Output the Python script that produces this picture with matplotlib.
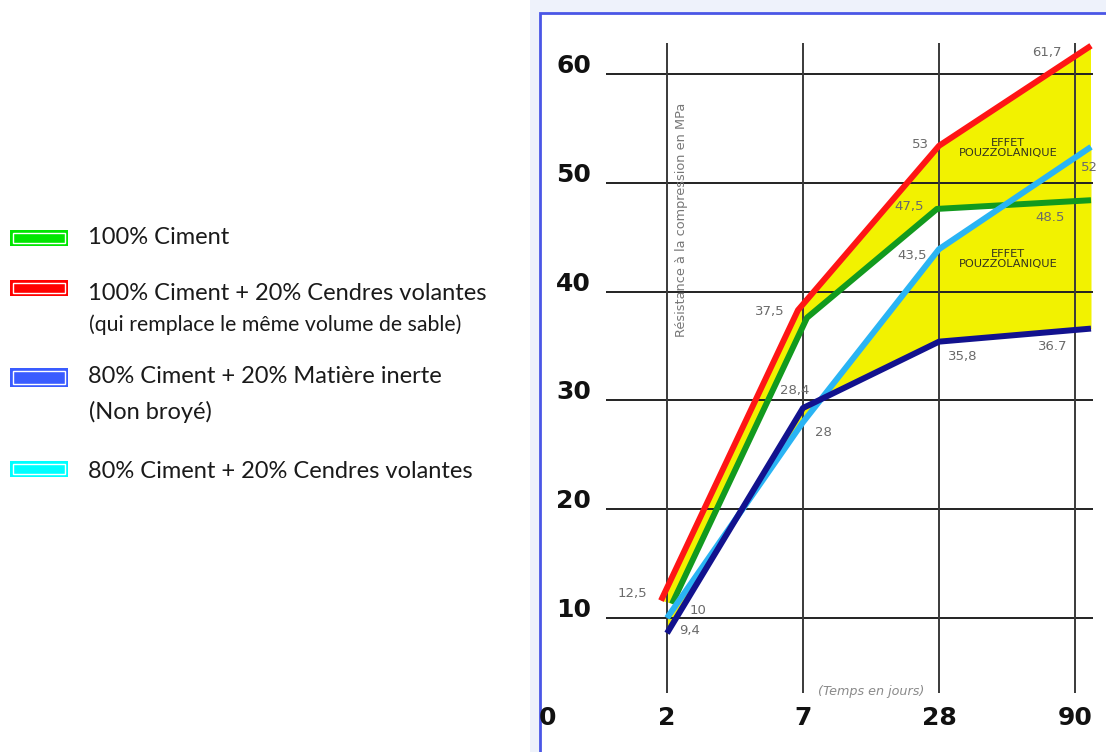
import matplotlib
matplotlib.use("Agg")
import matplotlib.pyplot as plt
from matplotlib.patches import Rectangle
import numpy as np

# ---------------- data ----------------
days = ["2", "7", "28", "90"]
y_ticks = [10, 20, 30, 40, 50, 60]

s_ciment = [11.3, 37.6, 47.6, 48.4]          # 100% Ciment (green)
s_ciment_cv = [11.6, 38.3, 53.4, 62.6]       # 100% Ciment + 20% CV (red)
s_inerte = [8.6, 29.3, 35.4, 36.6]           # 80% Ciment + 20% inerte (navy)
s_cv80 = [10.0, 28.0, 43.9, 53.3]            # 80% Ciment + 20% CV (cyan)

lab_ciment = ["", "", "47,5", "48.5"]
lab_ciment_cv = ["12,5", "37,5", "53", "61,7"]
lab_inerte = ["9,4", "28,4", "35,8", "36.7"]
lab_cv80 = ["10", "28", "43,5", "52"]

legend_labels = [
    "100% Ciment",
    "100% Ciment + 20% Cendres volantes",
    "80% Ciment + 20% Matière inerte",
    "80% Ciment + 20% Cendres volantes",
]
legend_sub = ["", "(qui remplace le même volume de sable)", "(Non broyé)", ""]

# ---------------- styling ----------------
W, H = 1106, 752
fig = plt.figure(figsize=(W / 100, H / 100), dpi=100)
fig.patch.set_facecolor("white")

def fx(px):
    return px / W

def fy(py):
    return 1 - py / H

# background panel for the chart (light surround + blue border)
fig.patches.append(Rectangle((fx(530), 0), 1 - fx(530), 1, transform=fig.transFigure,
                             facecolor="#eef2fb", edgecolor="none", zorder=-3))
fig.patches.append(Rectangle((fx(540), fy(760)), 1.2 - fx(540), fy(13) - fy(760),
                             transform=fig.transFigure, facecolor="white",
                             edgecolor="#4a56e6", linewidth=2.0, zorder=-2))

# axes placement (pixels)
L, R, T, B = 606, 1093, 43, 693
ax = fig.add_axes([fx(L), fy(B), fx(R) - fx(L), fy(T) - fy(B)])
ax.set_zorder(2)
ax.set_facecolor("none")
for sp in ax.spines.values():
    sp.set_visible(False)
ax.set_xticks([])
ax.set_yticks([])

px_per_x = 136.0
x0_px = 667
ax.set_xlim((L - x0_px) / px_per_x, (R - x0_px) / px_per_x)
px_per_y = 10.88
y0_px = 726.8
ax.set_ylim((y0_px - B) / px_per_y, (y0_px - T) / px_per_y)

xg = np.arange(len(days), dtype=float)      # grid positions
xd = xg.copy()
xd[-1] = (R - 2 - x0_px) / px_per_x          # last points drawn at the right edge

# small hand-drawn horizontal shifts (pixels) of the original drawing
dx_red = np.array([-6, -5, 0, 0]) / px_per_x
dx_green = np.array([5, 4, -2, 0]) / px_per_x
x_red = xd + dx_red
x_green = xd + dx_green

# yellow "effet pouzzolanique" areas
yellow = "#f2f200"
ax.fill(np.r_[x_red, x_green[::-1]], np.r_[s_ciment_cv, s_ciment[::-1]],
        color=yellow, lw=0, zorder=1)
ax.fill_between(xd, s_inerte, s_cv80, color=yellow, lw=0, zorder=1)

# grid
for v in y_ticks:
    ax.axhline(v, color="#222222", lw=1.4, zorder=2)
for xv in xg:
    ax.axvline(xv, color="#3a3a3a", lw=1.4, zorder=2)

# series
lw = 4.3
lines = [
    ax.plot(x_red, s_ciment_cv, color="#ff1515", lw=lw, zorder=4)[0],
    ax.plot(x_green, s_ciment, color="#129a1e", lw=lw, zorder=4)[0],
    ax.plot(xd, s_cv80, color="#2ab4f4", lw=lw, zorder=4)[0],
    ax.plot(xd, s_inerte, color="#12128e", lw=lw, zorder=5)[0],
]
for ln in lines:
    ln.set_clip_on(False)
    ln.set_solid_capstyle("butt")
    ln.set_solid_joinstyle("round")

# value labels (offsets in pixels)
lab_color = "#6a6a6a"
off_ciment_cv = [(-29, 7), (-28, -1), (-19, 1), (-44, -7)]
off_ciment = [(0, 0), (0, 0), (-28, 2), (-41, -17)]
off_cv80 = [(31, 8), (20, -10), (-27, -6), (-2, -21)]
off_inerte = [(23, 3), (-8, 18), (24, -15), (-38, -18)]
for xs, ser, labs, offs in [(x_red, s_ciment_cv, lab_ciment_cv, off_ciment_cv),
                            (x_green, s_ciment, lab_ciment, off_ciment),
                            (xd, s_cv80, lab_cv80, off_cv80),
                            (xd, s_inerte, lab_inerte, off_inerte)]:
    for xi, yi, t, o in zip(xs, ser, labs, offs):
        if t:
            ax.annotate(t, (xi, yi), xytext=o, textcoords="offset pixels",
                        ha="center", va="center", fontsize=9.5, color=lab_color,
                        family="DejaVu Sans", zorder=6, annotation_clip=False)

# EFFET POUZZOLANIQUE labels
for (px, py) in [(1008, 148), (1008, 259)]:
    ax.text((px - L) / (R - L), 1 - (py - T) / (B - T), "EFFET\nPOUZZOLANIQUE",
            transform=ax.transAxes, ha="center", va="center",
            fontsize=8.2, color="#333320", family="DejaVu Sans",
            linespacing=1.05, zorder=7)

# axis texts
fig.text(fx(681), fy(220), "Résistance à la compression en MPa", rotation=90,
         ha="center", va="center", fontsize=9.3, color="#777777",
         family="DejaVu Sans")
fig.text(fx(871), fy(692), "(Temps en jours)", ha="center", va="center",
         fontsize=9.2, color="#8a8a8a", style="italic", family="DejaVu Sans")

# tick labels
tick_kw = dict(fontsize=18, fontweight="bold", color="#111111", family="DejaVu Sans")
for v in y_ticks:
    ax.annotate(str(v), (ax.get_xlim()[0], v), xytext=(-15, 8), textcoords="offset pixels",
                ha="right", va="center", annotation_clip=False, **tick_kw)
fig.text(fx(548), fy(718), "0", ha="center", va="center", **tick_kw)
for xi, d in zip(xg, days):
    ax.annotate(d, (xi, ax.get_ylim()[0]), xytext=(0, -25), textcoords="offset pixels",
                ha="center", va="center", annotation_clip=False, **tick_kw)

# ---------------- legend (left) ----------------
leg_colors = ["#00e600", "#ff0000", "#3a5cff", "#00ffff"]
patch_y = [230, 280, 368, 461]       # top of each patch (px)
patch_h = [16, 16, 19, 16]
base_y = [244, 300, 383, 478]        # baseline of main label
sub_y = [None, 331, 419, None]
leg_font = "Lato"
for c, py, ph, t, by, st, sy in zip(leg_colors, patch_y, patch_h, legend_labels,
                                     base_y, legend_sub, sub_y):
    fig.patches.append(Rectangle((fx(10), fy(py + ph)), fx(68) - fx(10), fy(py) - fy(py + ph),
                                 transform=fig.transFigure, facecolor=c, edgecolor="none"))
    fig.patches.append(Rectangle((fx(13), fy(py + ph - 3)), fx(65) - fx(13),
                                 fy(py + 3) - fy(py + ph - 3),
                                 transform=fig.transFigure, facecolor="none",
                                 edgecolor="white", lw=1.0))
    fig.text(fx(88), fy(by), t, ha="left", va="baseline", fontsize=17,
             color="#1a1a1a", family=leg_font)
    if st:
        small = st.startswith("(qui")
        fig.text(fx(89), fy(sy), st, ha="left", va="baseline",
                 fontsize=15.3 if small else 17, color="#1a1a1a", family=leg_font)

fig.savefig("out.png", dpi=100, facecolor="white")
